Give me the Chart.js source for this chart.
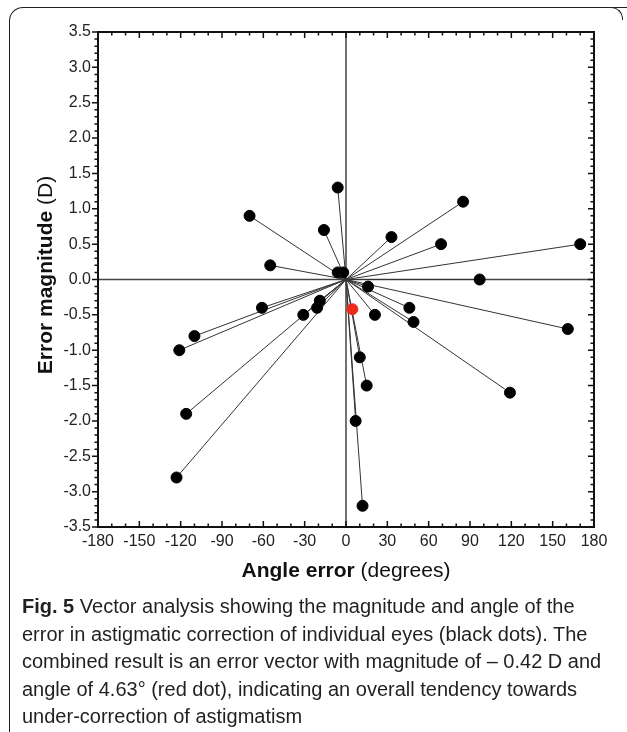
<!DOCTYPE html>
<html>
<head>
<meta charset="utf-8">
<script src="https://cdn.jsdelivr.net/npm/chart.js@4.4.0/dist/chart.umd.min.js"></script>
<style>
  html, body { margin: 0; padding: 0; background: #fff; }
  body { width: 627px; height: 732px; position: relative; overflow: hidden; }
  #frame { position: absolute; left: 9px; top: 7px; width: 640px; height: 760px;
           border-top: 1.5px solid #222; border-left: 1.5px solid #222; border-top-left-radius: 14px; }
  #corner { position: absolute; left: 610px; top: 7px; width: 12px; height: 12px;
            border-top: 1.5px solid #222; border-right: 1.5px solid #222; border-top-right-radius: 12px; background: #fff; }
  #wrap { position: absolute; left: 0; top: 0; width: 627px; height: 600px; }
  #caption { position: absolute; left: 22px; top: 593px; width: 600px;
             font-family: "Liberation Sans Narrow", "Liberation Sans", Arial, sans-serif;
             font-size: 20px; line-height: 27.5px; color: #231f20; }
  #caption b { font-weight: bold; }
</style>
</head>
<body>
<div id="frame"></div>
<div id="corner"></div>
<div id="wrap"><canvas id="chart" width="627" height="600"></canvas></div>
<div id="caption"><b>Fig. 5</b> Vector analysis showing the magnitude and angle of the<br>error in astigmatic correction of individual eyes (black dots). The<br>combined result is an error vector with magnitude of – 0.42 D and<br>angle of 4.63° (red dot), indicating an overall tendency towards<br>under-correction of astigmatism</div>
<script>
// individual eyes: angle error (degrees) and error magnitude (D)
const angleError = [-6, -16, 33, -6, -2, 16, 21, -19, -21, -31, -70, -55, -61, -110, -121,
                    85, 69, 170, 97, 46, 49, 161, 119, 10, 15, 7, 12, -116, -123];
const magnitude  = [1.3, 0.7, 0.6, 0.1, 0.1, -0.1, -0.5, -0.3, -0.4, -0.5, 0.9, 0.2, -0.4, -0.8, -1.0,
                    1.1, 0.5, 0.5, 0.0, -0.4, -0.6, -0.7, -1.6, -1.1, -1.5, -2.0, -3.2, -1.9, -2.8];
// combined error vector
const meanAngle = [4.63];
const meanMagnitude = [-0.42];

const xTicks = [-180, -150, -120, -90, -60, -30, 0, 30, 60, 90, 120, 150, 180];
const yTicks = [-3.5, -3.0, -2.5, -2.0, -1.5, -1.0, -0.5, 0.0, 0.5, 1.0, 1.5, 2.0, 2.5, 3.0, 3.5];

const tickFont = { family: 'Liberation Sans, Arial, sans-serif', size: 16 };

// one line from the origin to each eye
const vectorSets = angleError.map((a, i) => ({
  type: 'line',
  data: [{ x: 0, y: 0 }, { x: a, y: magnitude[i] }],
  borderColor: '#333',
  borderWidth: 1,
  pointRadius: 0,
  order: 3
}));

// axes, ticks and frame of the plot
const frameDraw = {
  id: 'frameDraw',
  beforeDatasetsDraw(chart) {
    const { ctx, chartArea: a, scales: { x, y } } = chart;
    ctx.save();
    ctx.strokeStyle = '#444';
    ctx.lineWidth = 1.5;
    ctx.beginPath();
    ctx.moveTo(a.left, y.getPixelForValue(0));
    ctx.lineTo(a.right, y.getPixelForValue(0));
    ctx.moveTo(x.getPixelForValue(0), a.top);
    ctx.lineTo(x.getPixelForValue(0), a.bottom);
    ctx.stroke();
    ctx.restore();
  },
  afterDraw(chart) {
    const { ctx, chartArea: a, scales: { x, y } } = chart;
    ctx.save();
    ctx.strokeStyle = '#111';
    ctx.lineWidth = 1.5;
    ctx.beginPath();
    // x ticks every 10 degrees, longer every 30
    for (let v = -180; v <= 180; v += 10) {
      const px = x.getPixelForValue(v);
      const len = v % 30 === 0 ? 6 : 3.5;
      ctx.moveTo(px, a.top); ctx.lineTo(px, a.top + len);
      ctx.moveTo(px, a.bottom); ctx.lineTo(px, a.bottom - len);
    }
    // y ticks every 0.1, longer every 0.5
    for (let k = -35; k <= 35; k++) {
      const py = y.getPixelForValue(k / 10);
      const len = k % 5 === 0 ? 6 : 3.5;
      ctx.moveTo(a.left, py); ctx.lineTo(a.left - len, py);
      ctx.moveTo(a.right, py); ctx.lineTo(a.right - len, py);
    }
    ctx.stroke();
    ctx.lineWidth = 2;
    ctx.strokeRect(a.left, a.top, a.right - a.left, a.bottom - a.top);

    // axis titles: bold name + plain unit
    ctx.fillStyle = '#111';
    const drawTitle = (bold, plain, cx, cy, rot) => {
      ctx.save();
      ctx.translate(cx, cy);
      ctx.rotate(rot);
      ctx.textBaseline = 'middle';
      ctx.font = 'bold 21px Liberation Sans, Arial, sans-serif';
      const w1 = ctx.measureText(bold).width;
      ctx.font = '21px Liberation Sans, Arial, sans-serif';
      const w2 = ctx.measureText(plain).width;
      let sx = -(w1 + w2) / 2;
      ctx.font = 'bold 21px Liberation Sans, Arial, sans-serif';
      ctx.fillText(bold, sx, 0);
      ctx.font = '21px Liberation Sans, Arial, sans-serif';
      ctx.fillText(plain, sx + w1, 0);
      ctx.restore();
    };
    drawTitle('Angle error', ' (degrees)', x.getPixelForValue(0), 571, 0);
    drawTitle('Error magnitude', ' (D)', 46, 275, -Math.PI / 2);
    ctx.restore();
  }
};

new Chart(document.getElementById('chart'), {
  type: 'scatter',
  data: {
    datasets: [
      ...vectorSets,
      {
        label: 'Individual eyes',
        data: angleError.map((a, i) => ({ x: a, y: magnitude[i] })),
        backgroundColor: '#000',
        borderColor: '#000',
        pointRadius: 5.5,
        order: 2
      },
      {
        label: 'Combined',
        data: meanAngle.map((a, i) => ({ x: a, y: meanMagnitude[i] })),
        backgroundColor: '#ee2a1b',
        borderColor: '#ee2a1b',
        pointRadius: 5.5,
        order: 1
      }
    ]
  },
  options: {
    responsive: false,
    animation: false,
    devicePixelRatio: 1,
    layout: { padding: { left: 10, right: 33, top: 32, bottom: 33 } },
    plugins: { legend: { display: false }, tooltip: { enabled: false } },
    scales: {
      x: {
        min: -180, max: 180,
        afterBuildTicks: s => { s.ticks = xTicks.map(v => ({ value: v })); },
        afterFit: s => { s.height = 40; },
        grid: { display: false },
        border: { display: false },
        ticks: { color: '#222', font: tickFont, padding: -3, maxRotation: 0, autoSkip: false }
      },
      y: {
        min: -3.5, max: 3.5,
        afterBuildTicks: s => { s.ticks = yTicks.map(v => ({ value: v })); },
        afterFit: s => { s.width = 88; },
        grid: { display: false },
        border: { display: false },
        ticks: { color: '#222', font: tickFont, padding: -1, autoSkip: false,
                 callback: v => Number(v).toFixed(1) }
      }
    }
  },
  plugins: [frameDraw]
});
</script>
</body>
</html>
